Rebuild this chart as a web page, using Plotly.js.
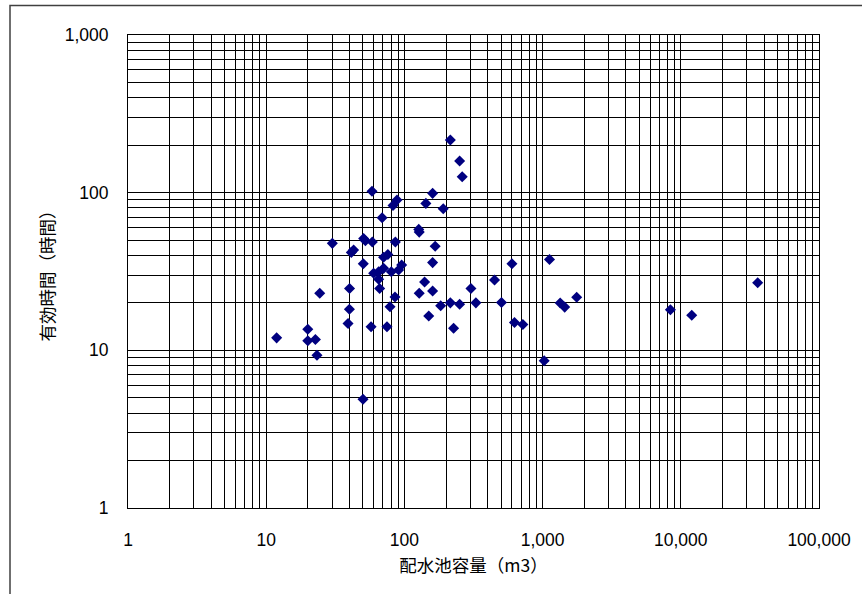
<!DOCTYPE html>
<html>
<head>
<meta charset="utf-8">
<script src="https://cdn.plot.ly/plotly-3.0.1.min.js"></script>
<style>html,body{margin:0;padding:0;background:#fff;}#chart{width:862px;height:594px;}</style>
</head>
<body>
<div id="chart"></div>
<script>
// 配水池容量 (m3)
const capacity = [11.9, 20.0, 20.0, 22.7, 23.3, 24.4, 30.1, 39.1, 40.0, 40.1, 41.3, 42.9, 50.2, 50.4, 50.7, 52.2,
  57.4, 58.3, 58.6, 59.9, 65.1, 66.2, 65.1, 69.0, 70.7, 70.7, 74.8, 75.9, 78.7, 80.4, 82.7, 86.0, 85.5, 88.4,
  90.8, 95.5, 127, 128, 128, 140, 143, 150, 160, 160, 160, 167, 183, 191, 215, 215, 227, 251, 251, 262,
  303, 329, 449, 504, 600, 626, 720, 1027, 1122, 1341, 1445, 1765, 8410, 12000, 36000];
// 有効時間 (時間)
const hours = [12.0, 13.6, 11.5, 11.7, 9.3, 23.0, 47.7, 14.8, 18.2, 24.7, 41.8, 43.3, 4.9, 35.4, 51.2, 49.6,
  14.1, 102, 48.6, 30.8, 28.2, 24.7, 31.5, 69.3, 38.9, 33.1, 14.1, 40.5, 18.9, 31.5, 82.8, 48.6, 21.8, 89.8,
  32.3, 34.8, 58.5, 56.2, 23.0, 27.1, 85.5, 16.5, 99, 36.0, 23.8, 45.7, 19.2, 79.1, 216, 20.0, 13.8, 159, 19.6, 126,
  24.7, 20.0, 27.9, 20.1, 35.4, 15.0, 14.6, 8.6, 37.7, 19.95, 18.8, 21.7, 18.1, 16.7, 26.8];

const xTickVals = [1, 10, 100, 1000, 10000, 100000];
const xTickText = ["1", "10", "100", "1,000", "10,000", "100,000"];
const yTickVals = [1, 10, 100, 1000];
const yTickText = ["1", "10", "100", "1,000"];

const xTitle = "配水池容量（m3）";
const yTitle = "有効時間（時間）";

const numFont = {family: "Liberation Sans, Arial, sans-serif", size: 17.5, color: "#000"};
const cjkFont = {family: "Noto Sans CJK JP, Liberation Sans, sans-serif", size: 17.5, color: "#000"};

const trace = {
  type: "scatter", mode: "markers",
  x: capacity, y: hours,
  marker: {symbol: "diamond", size: 8.5, color: "#000080", line: {width: 0}},
  hoverinfo: "x+y"
};

const axisCommon = {
  type: "log",
  showline: true, mirror: true, linecolor: "#000", linewidth: 1,
  showgrid: true, gridcolor: "#000", gridwidth: 1,
  zeroline: false, ticks: "",
  tickfont: numFont,
  minor: {showgrid: true, gridcolor: "#000", gridwidth: 1, dtick: "D1"}
};

const layout = {
  width: 862, height: 594,
  margin: {l: 128, r: 43, t: 35, b: 86},
  paper_bgcolor: "#fff", plot_bgcolor: "#fff",
  showlegend: false,
  xaxis: Object.assign({}, axisCommon, {
    range: [0, 5],
    tickmode: "array", tickvals: xTickVals, ticktext: xTickText,
    ticklabelstandoff: 16,
    title: {text: xTitle, font: cjkFont, standoff: 10}
  }),
  yaxis: Object.assign({}, axisCommon, {
    range: [0, 3],
    tickmode: "array", tickvals: yTickVals, ticktext: yTickText,
    ticklabelstandoff: 15,
    title: {text: yTitle, font: cjkFont, standoff: 5}
  }),
  shapes: [{
    type: "rect", xref: "paper", yref: "paper",
    x0: (10 - 128) / 691, x1: 1.2, y0: -0.3, y1: (508 - 5.5) / 473,
    line: {color: "#404040", width: 1.5}, fillcolor: "rgba(0,0,0,0)", layer: "below"
  }]
};

Plotly.newPlot("chart", [trace], layout, {staticPlot: true, displayModeBar: false});
</script>
</body>
</html>
